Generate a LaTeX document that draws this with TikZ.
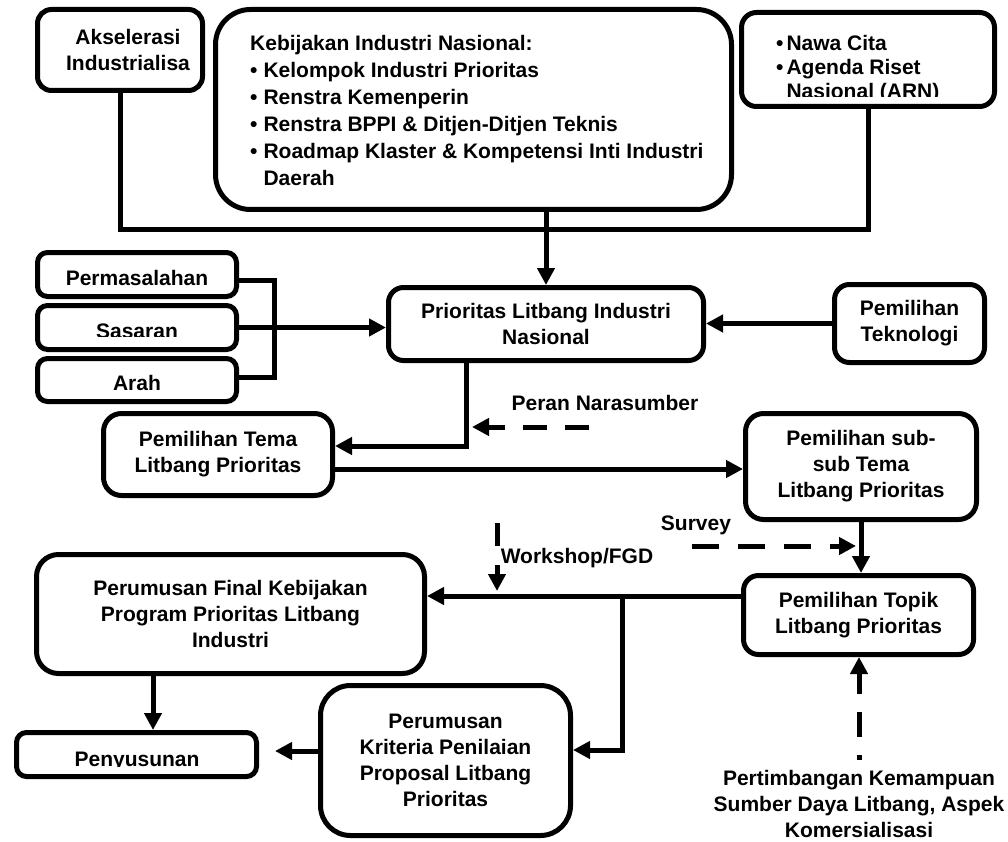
\documentclass[tikz,border=0pt]{standalone}
\usepackage{fontspec}
\setmainfont{Liberation Sans}
\usetikzlibrary{arrows.meta}
\begin{document}
\begin{tikzpicture}[x=1pt,y=-1pt,
  every node/.style={font=\fontsize{21}{26}\selectfont\bfseries},
  box/.style={draw, line width=5pt, rounded corners=#1, align=center, inner sep=0pt},
  box/.default=12pt,
  conn/.style={line width=5pt},
  arr/.style={line width=5pt, -{Triangle[length=17pt,width=17pt]}},
  darr/.style={arr, dash pattern=on 24pt off 18pt},
  lbl/.style={align=center, inner sep=0pt}]
\useasboundingbox (0,0) rectangle (1008,842);

% ---------- boxes ----------
\node[box=14pt, minimum width=165pt, minimum height=81pt] (aksel) at (120,50)
  {\hspace*{16pt}Akselerasi\\\hspace*{16pt}Industrialisa};

\node[box=35pt, minimum width=516pt, minimum height=200pt] (kebij) at (473.5,109.5) {};
\node[anchor=north west, align=left, inner sep=0pt, font=\fontsize{21}{27}\selectfont\bfseries]
  (kebijtext) at (250,35)
  {Kebijakan Industri Nasional:\\
   •\hspace{6pt}Kelompok Industri Prioritas\\
   •\hspace{6pt}Renstra Kemenperin\\
   •\hspace{6pt}Renstra BPPI \& Ditjen-Ditjen Teknis\\
   •\hspace{6pt}Roadmap Klaster \& Kompetensi Inti Industri\\
   \phantom{•}\hspace{6pt}Daerah};

\node[box=15pt, minimum width=253pt, minimum height=94pt] (arn) at (868,59.5) {};
\begin{scope}
  \clip (741,12) rectangle (995,97);
  \node[anchor=north west, align=left, inner sep=0pt, font=\fontsize{21}{24}\selectfont\bfseries]
    (arntext) at (776,34.7)
    {•\hspace{3pt}Nawa Cita\\•\hspace{3pt}Agenda Riset\\\phantom{•}\hspace{3pt}Nasional (ARN)};
\end{scope}

\node[box=10pt, minimum width=199pt, minimum height=44pt, text height=21pt, text depth=0pt]
  (perm) at (137,274.5) {Permasalahan};
\node[box=10pt, minimum width=199pt, minimum height=44pt] (sas) at (137,327.5) {};
\begin{scope}
  \clip (40,305) rectangle (234,336.5);
  \node[anchor=base, inner sep=0pt] (sastext) at (137,338) {Sasaran};
\end{scope}
\node[box=10pt, minimum width=199pt, minimum height=43pt, text height=20pt, text depth=0pt]
  (arah) at (137,380) {Arah};

\node[box=15pt, minimum width=315pt, minimum height=73pt] (prior) at (546,324)
  {Prioritas Litbang Industri\\Nasional};
\node[box=15pt, minimum width=150pt, minimum height=78pt] (tekno) at (909.5,323.5)
  {Pemilihan\\Teknologi};
\node[box=18pt, minimum width=229pt, minimum height=82pt] (tema) at (218,454.5)
  {Pemilihan Tema\\Litbang Prioritas};
\node[box=18pt, minimum width=231pt, minimum height=106pt] (subsub) at (861,466.5)
  {Pemilihan sub-\\sub Tema\\Litbang Prioritas};
\node[box=15pt, minimum width=230pt, minimum height=79pt] (topik) at (858.5,615)
  {Pemilihan Topik\\Litbang Prioritas};
\node[box=22pt, minimum width=388pt, minimum height=119pt] (final) at (230.5,614)
  {Perumusan Final Kebijakan\\Program Prioritas Litbang\\Industri};
\node[box=10pt, minimum width=240pt, minimum height=44pt] (penyu) at (136.5,754.5) {};
\begin{scope}
  \clip (18,734) rectangle (255,766);
  \node[anchor=base, inner sep=0pt] (penyutext) at (137,766) {Penyusunan};
\end{scope}
\node[box=30pt, minimum width=250pt, minimum height=150pt] (krit) at (445.5,760.5)
  {Perumusan\\Kriteria Penilaian\\Proposal Litbang\\Prioritas};

% ---------- labels ----------
\node[lbl] (peran) at (605,403) {Peran Narasumber};
\node[lbl] (survey) at (696,525) {Survey};
\node[lbl] (workshop) at (577,558) {Workshop/FGD};
\node[lbl] (pert) at (859,804) {Pertimbangan Kemampuan\\Sumber Daya Litbang, Aspek\\Komersialisasi};

% ---------- connectors ----------
\coordinate (j1) at (547,230);
\draw[conn] (aksel.south) |- (j1) -| (arn.south);
\draw[arr] (kebij.south -| prior.north) -- (prior.north);

\coordinate (b1) at (274,280);
\coordinate (b2) at (274,377);
\draw[conn] (perm.east |- b1) -- (b1) -- (b2) -- (arah.east |- b2);
\draw[arr] (sas.east) -- (sas.east -| prior.west);
\draw[arr] (tekno.west) -- (tekno.west -| prior.east);

\coordinate (c1) at (466,446);
\draw[arr] (c1 |- prior.south) -- (c1) -- (c1 -| tema.east);
\coordinate (c2) at (500,469);
\draw[arr] (tema.east |- c2) -- (subsub.west |- c2);

\coordinate (pn1) at (589,427);
\coordinate (pn2) at (472,427);
\draw[darr] (pn1) -- (pn2);

\draw[arr] (subsub.south) -- (subsub.south |- topik.north);
\coordinate (sv1) at (692,546);
\coordinate (sv2) at (856,546);
\draw[darr, dash pattern=on 27pt off 19pt] (sv1) -- (sv2);

\coordinate (c3) at (622,596);
\draw[arr] (topik.west |- c3) -- (final.east |- c3);
\coordinate (c4) at (622,750);
\draw[arr] (c3) -- (c4) -- (krit.east |- c4);

\coordinate (ws1) at (497,523);
\coordinate (ws2) at (497,591);
\draw[darr, dash pattern=on 23pt off 19pt] (ws1) -- (ws2);

\coordinate (c5) at (153,700);
\draw[arr] (c5 |- final.south) -- (c5 |- penyu.north);
\coordinate (c6) at (275,751);
\draw[arr] (krit.west |- c6) -- (c6);

\draw[darr, dash pattern=on 25pt off 18pt, dash phase=20pt] ([yshift=10pt]pert.north) -- (pert.north |- topik.south);
\end{tikzpicture}
\end{document}
